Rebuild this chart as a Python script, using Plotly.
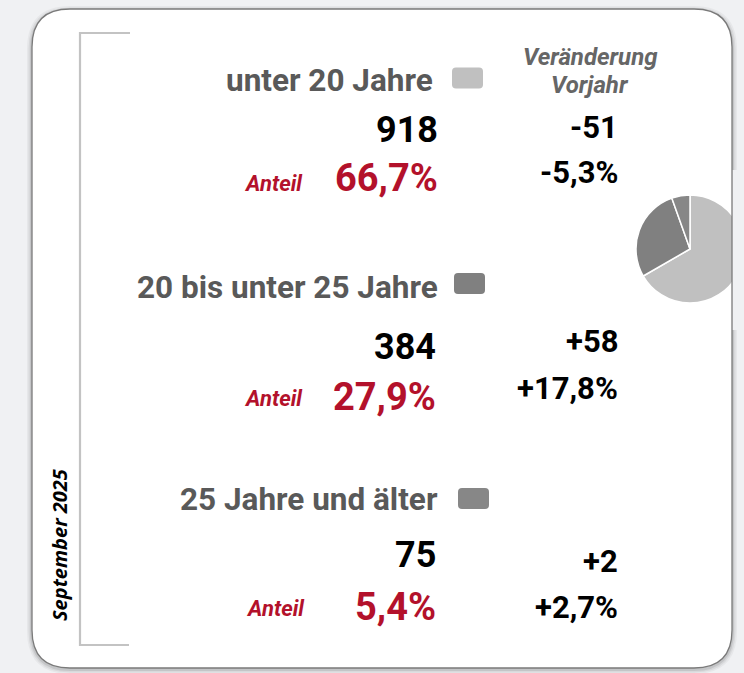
import plotly.graph_objects as go

# ---------------- data ----------------
categories = ["unter 20 Jahre", "20 bis unter 25 Jahre", "25 Jahre und älter"]
counts = [918, 384, 75]
shares = ["66,7%", "27,9%", "5,4%"]
changes_abs = ["-51", "+58", "+2"]
changes_pct = ["-5,3%", "+17,8%", "+2,7%"]
slice_colors = ["#c0c0c0", "#808080", "#878787"]
share_label = "Anteil"
change_header = ["Veränderung", "Vorjahr"]
period = "September 2025"

# ---------------- layout helpers ----------------
W, H = 744, 673
BG = "#f0f1f3"
RED = "#b3112b"
GREY_TXT = "#595959"


def px(x):
    return x / W


def py(y):
    return 1 - y / H


def rrect(x0, y0, x1, y1, r):
    pts = [
        f"M {px(x0 + r)},{py(y0)}",
        f"L {px(x1 - r)},{py(y0)}",
        f"Q {px(x1)},{py(y0)} {px(x1)},{py(y0 + r)}",
        f"L {px(x1)},{py(y1 - r)}",
        f"Q {px(x1)},{py(y1)} {px(x1 - r)},{py(y1)}",
        f"L {px(x0 + r)},{py(y1)}",
        f"Q {px(x0)},{py(y1)} {px(x0)},{py(y1 - r)}",
        f"L {px(x0)},{py(y0 + r)}",
        f"Q {px(x0)},{py(y0)} {px(x0 + r)},{py(y0)}",
        "Z",
    ]
    return " ".join(pts)


shapes = []
annotations = []

# card shadow
for g, op in [(5, 0.04), (3.5, 0.06), (2, 0.09)]:
    shapes.append(dict(type="path", xref="paper", yref="paper",
                       path=rrect(32 - g, 9 - g + 2, 732 + g, 668 + g + 1, 38 + g),
                       fillcolor="#000000", opacity=op, line=dict(width=0), layer="below"))
# card fill
shapes.append(dict(type="path", xref="paper", yref="paper",
                   path=rrect(32, 9, 732, 668, 38),
                   fillcolor="white", line=dict(width=0), layer="below"))

# mask pie part beyond the card edge
shapes.append(dict(type="rect", xref="paper", yref="paper",
                   x0=px(732), x1=1, y0=py(330), y1=py(170),
                   fillcolor=BG, line=dict(width=0), layer="above"))
# card border (above pie)
shapes.append(dict(type="path", xref="paper", yref="paper",
                   path=rrect(32, 9, 732, 668, 38),
                   fillcolor="rgba(0,0,0,0)", line=dict(color="#7a7a7a", width=1.3), layer="above"))

# bracket
shapes.append(dict(type="path", xref="paper", yref="paper",
                   path=f"M {px(130)},{py(33)} L {px(80)},{py(33)} L {px(80)},{py(645)} L {px(129)},{py(645)}",
                   line=dict(color="#c3c3c3", width=2.2), layer="below"))

annotations.append(dict(x=px(59), y=py(545), xref="paper", yref="paper",
                        text=f"<b><i>{period}</i></b>", textangle=-90, showarrow=False,
                        font=dict(family="Open Sans", size=20, color="#000000"),
                        xanchor="center", yanchor="middle"))

# header
for txt, yy in zip(change_header, [57, 85]):
    annotations.append(dict(x=px(590), y=py(yy), xref="paper", yref="paper",
                            text=f"<b><i>{txt}</i></b>", showarrow=False,
                            font=dict(family="Roboto", size=24, color="#666666"),
                            xanchor="center", yanchor="middle"))

label_y = [80, 287, 499]
label_right = [435, 440, 440]
sq_x0 = [452, 454, 458]
sq_y = [78, 283.5, 498.5]
count_y = [130, 347, 555]
share_y = [178, 397, 607]
num_right = [440, 438, 438]
anteil_x = [242, 242, 244]
anteil_y = [184, 398, 608]
chg_abs_y = [127, 341, 561]
chg_pct_y = [173, 389, 607]

for i in range(3):
    annotations.append(dict(x=px(label_right[i]), y=py(label_y[i]), xref="paper", yref="paper",
                            text=f"<b>{categories[i]}</b>", showarrow=False,
                            font=dict(family="Roboto", size=31.5, color=GREY_TXT),
                            xanchor="right", yanchor="middle"))
    shapes.append(dict(type="path", xref="paper", yref="paper",
                       path=rrect(sq_x0[i], sq_y[i] - 10.5, sq_x0[i] + 31, sq_y[i] + 10.5, 4),
                       fillcolor=slice_colors[i], line=dict(width=0), layer="above"))
    annotations.append(dict(x=px(num_right[i]), y=py(count_y[i]), xref="paper", yref="paper",
                            text=f"<b>{counts[i]}</b>", showarrow=False,
                            font=dict(family="Roboto", size=36, color="#000000"),
                            xanchor="right", yanchor="middle"))
    annotations.append(dict(x=px(num_right[i]), y=py(share_y[i]), xref="paper", yref="paper",
                            text=f"<b>{shares[i]}</b>", showarrow=False,
                            font=dict(family="Roboto", size=38, color=RED),
                            xanchor="right", yanchor="middle"))
    annotations.append(dict(x=px(anteil_x[i]), y=py(anteil_y[i]), xref="paper", yref="paper",
                            text=f"<b><i>{share_label}</i></b>", showarrow=False,
                            font=dict(family="Roboto", size=22, color=RED),
                            xanchor="left", yanchor="middle"))
    annotations.append(dict(x=px(620), y=py(chg_abs_y[i]), xref="paper", yref="paper",
                            text=f"<b>{changes_abs[i]}</b>", showarrow=False,
                            font=dict(family="Roboto", size=31, color="#000000"),
                            xanchor="right", yanchor="middle"))
    annotations.append(dict(x=px(620), y=py(chg_pct_y[i]), xref="paper", yref="paper",
                            text=f"<b>{changes_pct[i]}</b>", showarrow=False,
                            font=dict(family="Roboto", size=31, color="#000000"),
                            xanchor="right", yanchor="middle"))

fig = go.Figure()
fig.add_trace(go.Pie(
    labels=categories, values=counts, sort=False, direction="clockwise", rotation=0,
    marker=dict(colors=slice_colors, line=dict(color="white", width=1.5)),
    textinfo="none", hoverinfo="label+value+percent", showlegend=False,
    domain=dict(x=[px(636), 1], y=[py(249 + 60), py(249 - 60)]),
))

fig.update_layout(
    width=W, height=H,
    margin=dict(l=0, r=0, t=0, b=0),
    paper_bgcolor=BG, plot_bgcolor=BG,
    shapes=shapes, annotations=annotations,
    showlegend=False,
)

fig.write_html(
    "out.html",
    config={"displayModeBar": False},
    post_script="document.body.style.margin='0';document.body.style.background='%s';document.body.style.overflow='hidden';" % BG,
)
